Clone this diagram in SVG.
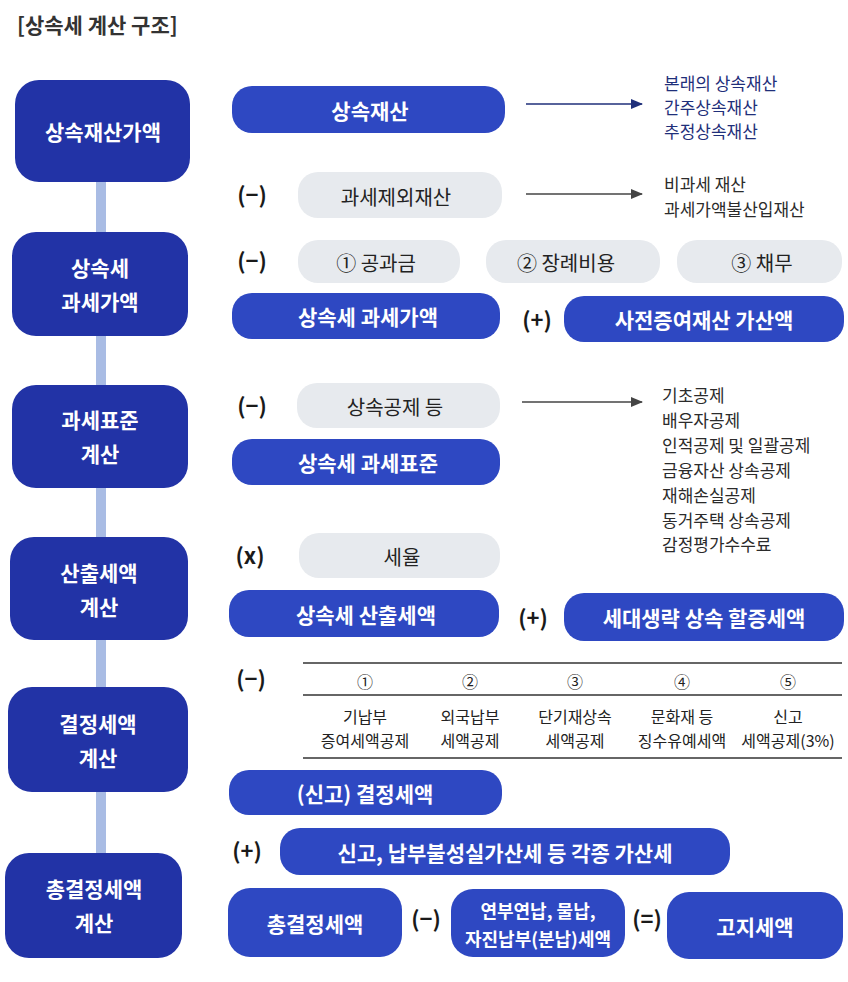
<svg xmlns="http://www.w3.org/2000/svg" width="848" height="982" viewBox="0 0 848 982">
<defs>
<marker id="ahNavy" markerWidth="12" markerHeight="10" refX="11" refY="5" orient="auto" markerUnits="userSpaceOnUse"><path d="M0,0 L12,5 L0,10 z" fill="#1f2f7a"/></marker>
<marker id="ahGray" markerWidth="12" markerHeight="10" refX="11" refY="5" orient="auto" markerUnits="userSpaceOnUse"><path d="M0,0 L12,5 L0,10 z" fill="#444"/></marker>
<style>
text{font-family:"Noto Sans CJK KR","Noto Sans",sans-serif;}
.main{fill:#2233a6;}
.pill{fill:#2e48c2;}
.gray{fill:#e7eaee;}
.wt{fill:#fff;font-weight:700;text-anchor:middle;dominant-baseline:central;}
.gt{fill:#222;font-size:20px;text-anchor:middle;dominant-baseline:central;}
.op{fill:#1a1a1a;font-size:22px;font-weight:600;text-anchor:middle;dominant-baseline:central;}
.lst{font-size:17px;dominant-baseline:central;fill:#2b2b2b;}
.lstn{font-size:17px;dominant-baseline:central;fill:#1f2f7a;}
.tb{font-size:16px;fill:#222;text-anchor:middle;dominant-baseline:central;}
.vl{stroke:#a9bce4;stroke-width:10;}
</style>
</defs>
<rect width="848" height="982" fill="#fff"/>
<text x="17" y="24" font-size="21" font-weight="700" fill="#333" dominant-baseline="central">[상속세 계산 구조]</text>

<g id="connectors">
<line class="vl" x1="101" y1="180" x2="101" y2="234"/>
<line class="vl" x1="101" y1="334" x2="101" y2="387"/>
<line class="vl" x1="101" y1="486" x2="101" y2="539"/>
<line class="vl" x1="101" y1="638" x2="101" y2="689"/>
<line class="vl" x1="101" y1="790" x2="101" y2="855"/>
<line x1="526" y1="104" x2="642" y2="104" stroke="#1f2f7a" stroke-width="1.5" marker-end="url(#ahNavy)"/>
<line x1="526" y1="194" x2="642" y2="194" stroke="#444" stroke-width="1.5" marker-end="url(#ahGray)"/>
<line x1="522" y1="402" x2="642" y2="402" stroke="#444" stroke-width="1.5" marker-end="url(#ahGray)"/>
</g>

<g id="n-left1"><rect class="main" x="15" y="80" width="175" height="102" rx="24"/><text class="wt" x="103" y="131" font-size="21">상속재산가액</text></g>
<g id="n-left2"><rect class="main" x="12" y="232" width="176" height="104" rx="24"/><text class="wt" x="100" y="267" font-size="21">상속세</text><text class="wt" x="100" y="301" font-size="21">과세가액</text></g>
<g id="n-left3"><rect class="main" x="12" y="385" width="176" height="103" rx="24"/><text class="wt" x="100" y="419" font-size="21">과세표준</text><text class="wt" x="100" y="453" font-size="21">계산</text></g>
<g id="n-left4"><rect class="main" x="10" y="537" width="178" height="103" rx="24"/><text class="wt" x="99" y="572" font-size="21">산출세액</text><text class="wt" x="99" y="606" font-size="21">계산</text></g>
<g id="n-left5"><rect class="main" x="8" y="687" width="180" height="105" rx="24"/><text class="wt" x="98" y="723" font-size="21">결정세액</text><text class="wt" x="98" y="757" font-size="21">계산</text></g>
<g id="n-left6"><rect class="main" x="5" y="853" width="177" height="105" rx="24"/><text class="wt" x="94" y="888" font-size="21">총결정세액</text><text class="wt" x="94" y="922" font-size="21">계산</text></g>

<g id="n-sangsok"><rect class="pill" x="232" y="86" width="273" height="47" rx="20"/><text class="wt" x="370" y="110" font-size="21">상속재산</text></g>
<g id="n-list1"><text class="lstn" x="664" y="82">본래의 상속재산</text><text class="lstn" x="664" y="106">간주상속재산</text><text class="lstn" x="664" y="130">추정상속재산</text></g>

<g id="n-exclude"><text class="op" x="252" y="193">(−)</text><rect class="gray" x="298" y="172" width="204" height="46" rx="20"/><text class="gt" x="396" y="196">과세제외재산</text></g>
<g id="n-list2"><text class="lst" x="664" y="183">비과세 재산</text><text class="lst" x="664" y="208">과세가액불산입재산</text></g>

<g id="n-deduct3"><text class="op" x="252" y="259">(−)</text>
<rect class="gray" x="298" y="240" width="162" height="43" rx="20"/><text class="gt" x="376" y="262">① 공과금</text>
<rect class="gray" x="486" y="240" width="174" height="43" rx="20"/><text class="gt" x="566" y="262">② 장례비용</text>
<rect class="gray" x="677" y="240" width="165" height="43" rx="20"/><text class="gt" x="762" y="262">③ 채무</text></g>

<g id="n-taxvalue"><rect class="pill" x="232" y="293" width="268" height="46" rx="20"/><text class="wt" x="368" y="316" font-size="21">상속세 과세가액</text></g>
<g id="n-gift"><text class="op" x="537" y="318">(+)</text><rect class="pill" x="564" y="296" width="280" height="46" rx="20"/><text class="wt" x="704" y="319" font-size="21">사전증여재산 가산액</text></g>

<g id="n-deduction"><text class="op" x="252" y="404">(−)</text><rect class="gray" x="297" y="383" width="203" height="45" rx="20"/><text class="gt" x="395" y="406">상속공제 등</text></g>
<g id="n-list3"><text class="lst" x="662" y="394">기초공제</text><text class="lst" x="662" y="419">배우자공제</text><text class="lst" x="662" y="444">인적공제 및 일괄공제</text><text class="lst" x="662" y="469">금융자산 상속공제</text><text class="lst" x="662" y="494">재해손실공제</text><text class="lst" x="662" y="519">동거주택 상속공제</text><text class="lst" x="662" y="543">감정평가수수료</text></g>

<g id="n-base"><rect class="pill" x="232" y="439" width="268" height="46" rx="20"/><text class="wt" x="368" y="462" font-size="21">상속세 과세표준</text></g>

<g id="n-rate"><text class="op" x="250" y="554">(x)</text><rect class="gray" x="299" y="533" width="201" height="45" rx="20"/><text class="gt" x="402" y="556">세율</text></g>
<g id="n-calc"><rect class="pill" x="229" y="590" width="270" height="47" rx="20"/><text class="wt" x="366" y="614" font-size="21">상속세 산출세액</text></g>
<g id="n-skip"><text class="op" x="533" y="616">(+)</text><rect class="pill" x="564" y="593" width="280" height="48" rx="20"/><text class="wt" x="704" y="617" font-size="21">세대생략 상속 할증세액</text></g>

<g id="n-credits"><text class="op" x="251" y="677">(−)</text>
<line x1="303" y1="663" x2="842" y2="663" stroke="#333" stroke-width="1.3"/>
<line x1="303" y1="695" x2="842" y2="695" stroke="#333" stroke-width="1.3"/>
<line x1="303" y1="758" x2="842" y2="758" stroke="#333" stroke-width="1.3"/>
<text class="tb" x="365" y="681">①</text><text class="tb" x="470" y="681">②</text><text class="tb" x="575" y="681">③</text><text class="tb" x="682" y="681">④</text><text class="tb" x="788" y="681">⑤</text>
<text class="tb" x="365" y="716">기납부</text><text class="tb" x="365" y="740">증여세액공제</text>
<text class="tb" x="470" y="716">외국납부</text><text class="tb" x="470" y="740">세액공제</text>
<text class="tb" x="575" y="716">단기재상속</text><text class="tb" x="575" y="740">세액공제</text>
<text class="tb" x="682" y="716">문화재 등</text><text class="tb" x="682" y="740">징수유예세액</text>
<text class="tb" x="788" y="716">신고</text><text class="tb" x="788" y="740">세액공제(3%)</text></g>

<g id="n-decided"><rect class="pill" x="229" y="770" width="273" height="45" rx="20"/><text class="wt" x="365" y="793" font-size="21">(신고) 결정세액</text></g>
<g id="n-penalty"><text class="op" x="247" y="849">(+)</text><rect class="pill" x="280" y="828" width="450" height="47" rx="20"/><text class="wt" x="505" y="852" font-size="21">신고, 납부불성실가산세 등 각종 가산세</text></g>

<g id="n-total"><rect class="pill" x="228" y="888" width="174" height="69" rx="22"/><text class="wt" x="315" y="923" font-size="21">총결정세액</text></g>
<g id="n-install"><text class="op" x="426" y="917">(−)</text><rect class="pill" x="451" y="889" width="174" height="68" rx="22"/><text class="wt" x="538" y="910" font-size="18">연부연납, 물납,</text><text class="wt" x="538" y="938" font-size="18">자진납부(분납)세액</text></g>
<g id="n-notice"><text class="op" x="647" y="917">(=)</text><rect class="pill" x="667" y="892" width="176" height="67" rx="22"/><text class="wt" x="755" y="926" font-size="21">고지세액</text></g>
</svg>
